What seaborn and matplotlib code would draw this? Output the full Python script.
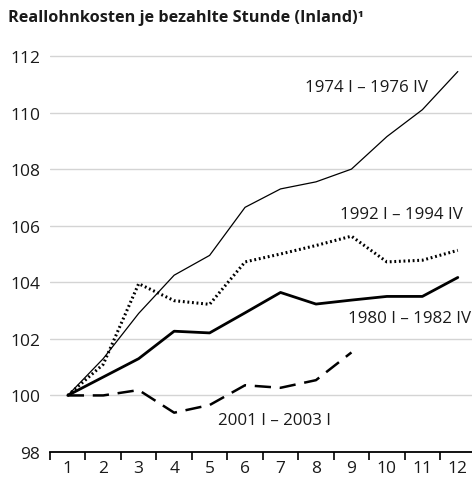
import matplotlib
matplotlib.use("Agg")
import matplotlib.pyplot as plt
import seaborn as sns
import pandas as pd
from matplotlib.ticker import FixedLocator

# Quarters since start of each episode
quarters = list(range(1, 13))

# Real labour costs per paid hour, index (first quarter = 100)
s1974 = [100.0, 101.3, 102.9, 104.25, 104.95, 106.65, 107.3, 107.55, 108.0, 109.15, 110.1, 111.45]
s1992 = [100.0, 101.1, 103.95, 103.35, 103.22, 104.72, 105.0, 105.3, 105.63, 104.72, 104.78, 105.13]
s1980 = [100.0, 100.65, 101.3, 102.27, 102.21, 102.92, 103.64, 103.23, 103.37, 103.5, 103.5, 104.17]
s2001 = [100.0, 100.0, 100.19, 99.39, 99.66, 100.36, 100.27, 100.54, 101.52]

labels = ["1974 I – 1976 IV", "1992 I – 1994 IV", "1980 I – 1982 IV", "2001 I – 2003 I"]
title = "Reallohnkosten je bezahlte Stunde (Inland)¹"

series = [s1974, s1992, s1980, s2001]
frames = []
for lab, vals in zip(labels, series):
    frames.append(pd.DataFrame({"Quartal": quarters[:len(vals)], "Index": vals, "Zeitraum": lab}))
df = pd.concat(frames, ignore_index=True)

sns.set_theme(style="white")
plt.rcParams["font.family"] = ["Open Sans", "DejaVu Sans"]

fig = plt.figure(figsize=(4.72, 4.81), dpi=100)
ax = fig.add_axes([0.106, 0.0582, 0.894, 0.841])

styles = {
    labels[0]: dict(lw=0.9, ls="-"),
    labels[1]: dict(lw=2.2, ls=(0, (0.6, 0.9))),
    labels[2]: dict(lw=2.0, ls="-"),
    labels[3]: dict(lw=1.8, ls=(0, (6.5, 3.5))),
}

for y in range(100, 113, 2):
    ax.axhline(y, color="#d4d4d4", lw=1.0, zorder=0)

for lab in labels:
    sub = df[df["Zeitraum"] == lab]
    sns.lineplot(data=sub, x="Quartal", y="Index", ax=ax, color="black",
                 linewidth=styles[lab]["lw"], linestyle=styles[lab]["ls"],
                 legend=False, zorder=3)

ax.set_xlim(0.5, 12.4)
ax.set_ylim(98, 112.3)
ax.set_xticks(quarters)
ax.set_xticklabels([str(q) for q in quarters])
ax.xaxis.set_minor_locator(FixedLocator([q + 0.5 for q in range(0, 12)]))
ax.tick_params(axis="x", which="major", length=0, labelsize=12.5, pad=6, colors="#1a1a1a")
ax.tick_params(axis="x", which="minor", length=6, width=1.2, direction="out", color="black", bottom=True)
ax.set_yticks(range(98, 113, 2))
ax.tick_params(axis="y", length=0, labelsize=12.5, pad=7, colors="#1a1a1a")
ax.set_xlabel("")
ax.set_ylabel("")

for side in ["top", "right", "left"]:
    ax.spines[side].set_visible(False)
ax.spines["bottom"].set_color("black")
ax.spines["bottom"].set_linewidth(1.3)

txt = dict(fontsize=12.2, color="#1a1a1a", va="center")
ax.text(11.15, 110.9, labels[0], ha="right", **txt)
ax.text(12.13, 106.43, labels[1], ha="right", **txt)
ax.text(12.38, 102.72, labels[2], ha="right", **txt)
ax.text(5.23, 99.13, labels[3], ha="left", **txt)

fig.text(0.017, 0.962, title, fontsize=11.7, fontweight="bold", color="#1a1a1a",
         ha="left", va="center")

fig.savefig("out.png", dpi=100)
